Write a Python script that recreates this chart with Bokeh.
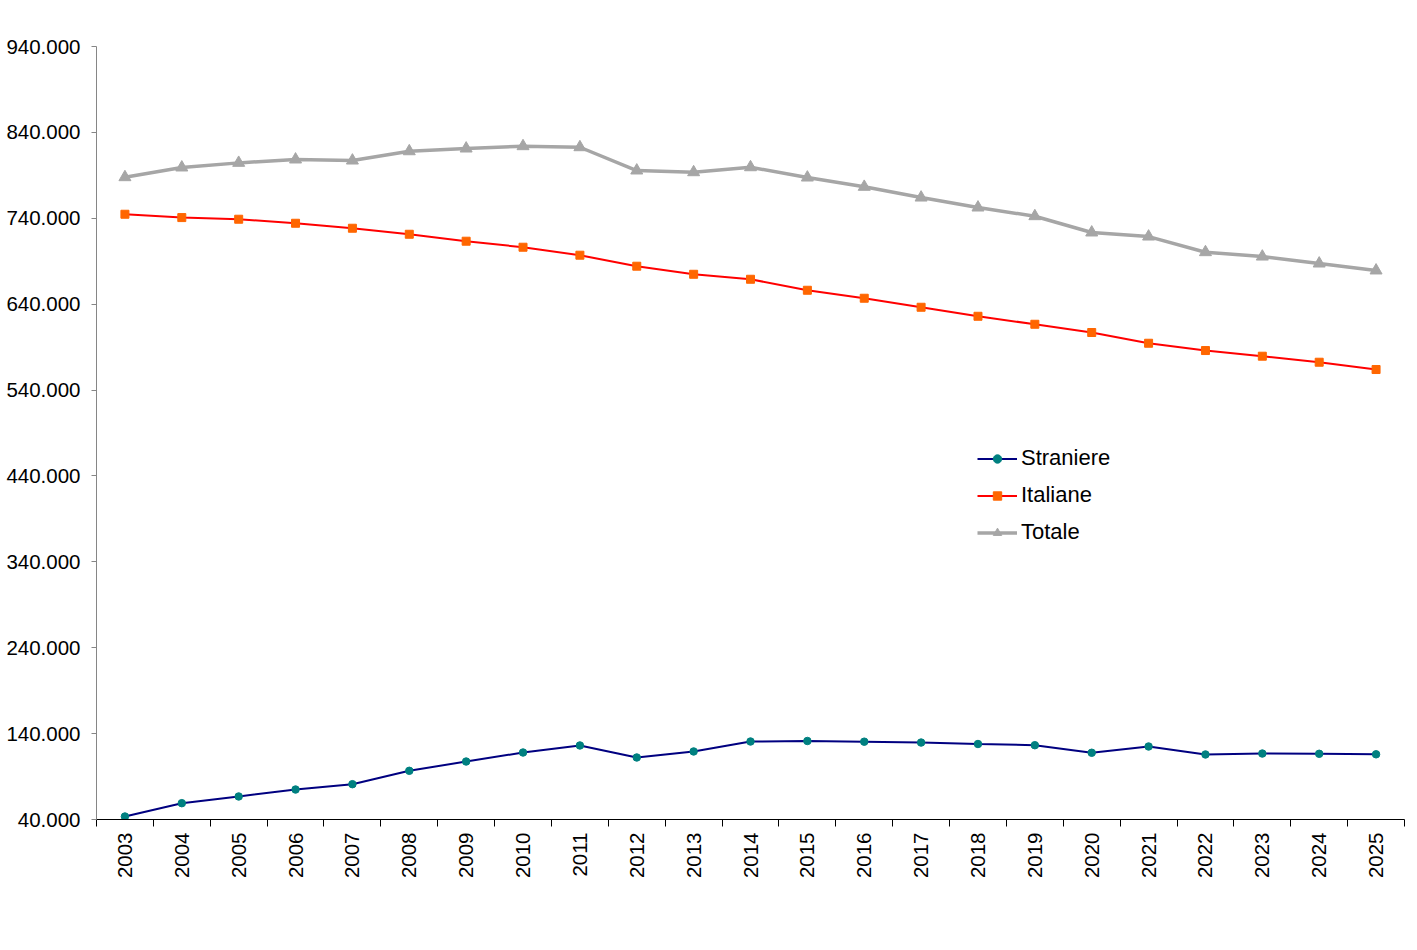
import numpy as np
from bokeh.plotting import figure
from bokeh.models import Range1d, FixedTicker, CustomJSTickFormatter, Legend, LegendItem
from bokeh.embed import file_html
from bokeh.resources import INLINE

years = ["2003", "2004", "2005", "2006", "2007", "2008", "2009", "2010", "2011", "2012",
         "2013", "2014", "2015", "2016", "2017", "2018", "2019", "2020", "2021", "2022",
         "2023", "2024", "2025"]
straniere = [43500, 59000, 66800, 74900, 81100, 96700, 107500, 118000, 126200, 112200,
             119200, 130800, 131400, 130600, 129600, 127900, 126500, 117700, 125000, 115700,
             116800, 116500, 115900]
italiane = [744700, 740800, 738900, 734200, 728400, 721400, 713300, 706300, 697000, 684200,
            674800, 669000, 656200, 646900, 636400, 625900, 616600, 607000, 594500, 586000,
            579400, 572400, 563900]
totale = [787800, 799100, 804500, 808400, 807200, 818000, 821200, 823900, 822700, 795600,
          793600, 799400, 787400, 776600, 764100, 752500, 742400, 723400, 718700, 700500,
          695400, 687300, 679200]
y_ticks = [40000, 140000, 240000, 340000, 440000, 540000, 640000, 740000, 840000, 940000]

FONT = "Liberation Sans"
x = [i + 0.5 for i in range(len(years))]

p = figure(frame_width=1308, frame_height=773,
           min_border_left=96, min_border_right=13, min_border_top=46, min_border_bottom=131,
           output_backend="svg", toolbar_location=None,
           x_range=Range1d(0, len(years)), y_range=Range1d(y_ticks[0], y_ticks[-1]))
p.background_fill_color = "white"
p.border_fill_color = "white"
p.outline_line_color = None
p.xgrid.visible = False
p.ygrid.visible = False

# x axis
xa = p.xaxis[0]
xa.ticker = FixedTicker(ticks=x, minor_ticks=list(range(len(years) + 1)))
xa.formatter = CustomJSTickFormatter(args=dict(years=years), code="return years[Math.floor(tick)];")
xa.major_tick_out = 0
xa.major_tick_in = 0
xa.minor_tick_out = 7
xa.minor_tick_in = 0
xa.minor_tick_line_color = "black"
xa.axis_line_color = "black"
xa.major_label_orientation = np.pi / 2
xa.major_label_standoff = 6
xa.major_label_text_font = FONT
xa.major_label_text_font_size = "20.5px"
xa.major_label_text_color = "black"

# y axis
ya = p.yaxis[0]
ya.ticker = FixedTicker(ticks=y_ticks, minor_ticks=[])
ya.formatter = CustomJSTickFormatter(code="return tick.toFixed(0).replace(/\\B(?=(\\d{3})+(?!\\d))/g, '.');")
ya.axis_line_color = "#868686"
ya.major_tick_line_color = "#868686"
ya.major_tick_out = 5
ya.major_tick_in = 0
ya.minor_tick_line_color = None
ya.major_label_standoff = 11
ya.major_label_text_font = FONT
ya.major_label_text_font_size = "20.5px"
ya.major_label_text_color = "black"

l1 = p.line(x, straniere, line_color="#000080", line_width=2)
s1 = p.scatter(x, straniere, marker="circle", size=7.5, fill_color="#008080", line_color="#008080")
l2 = p.line(x, italiane, line_color="#FF0000", line_width=2)
s2 = p.scatter(x, italiane, marker="square", size=8, fill_color="#FF6600", line_color="#FF6600")
l3 = p.line(x, totale, line_color="#A6A6A6", line_width=3.5)
s3 = p.scatter(x, totale, marker="triangle", size=12, fill_color="#A6A6A6", line_color="#A6A6A6")

legend = Legend(items=[
    LegendItem(label="Straniere", renderers=[l1, s1]),
    LegendItem(label="Italiane", renderers=[l2, s2]),
    LegendItem(label="Totale", renderers=[l3, s3]),
], location=(881, 274))
legend.border_line_color = None
legend.background_fill_alpha = 0
legend.padding = 0
legend.margin = 0
legend.glyph_width = 40
legend.glyph_height = 21
legend.label_height = 21
legend.spacing = 11
legend.label_standoff = 4
legend.label_text_font = FONT
legend.label_text_font_size = "22px"
legend.label_text_color = "black"
p.add_layout(legend)

open("out.html", "w").write(file_html(p, INLINE))
